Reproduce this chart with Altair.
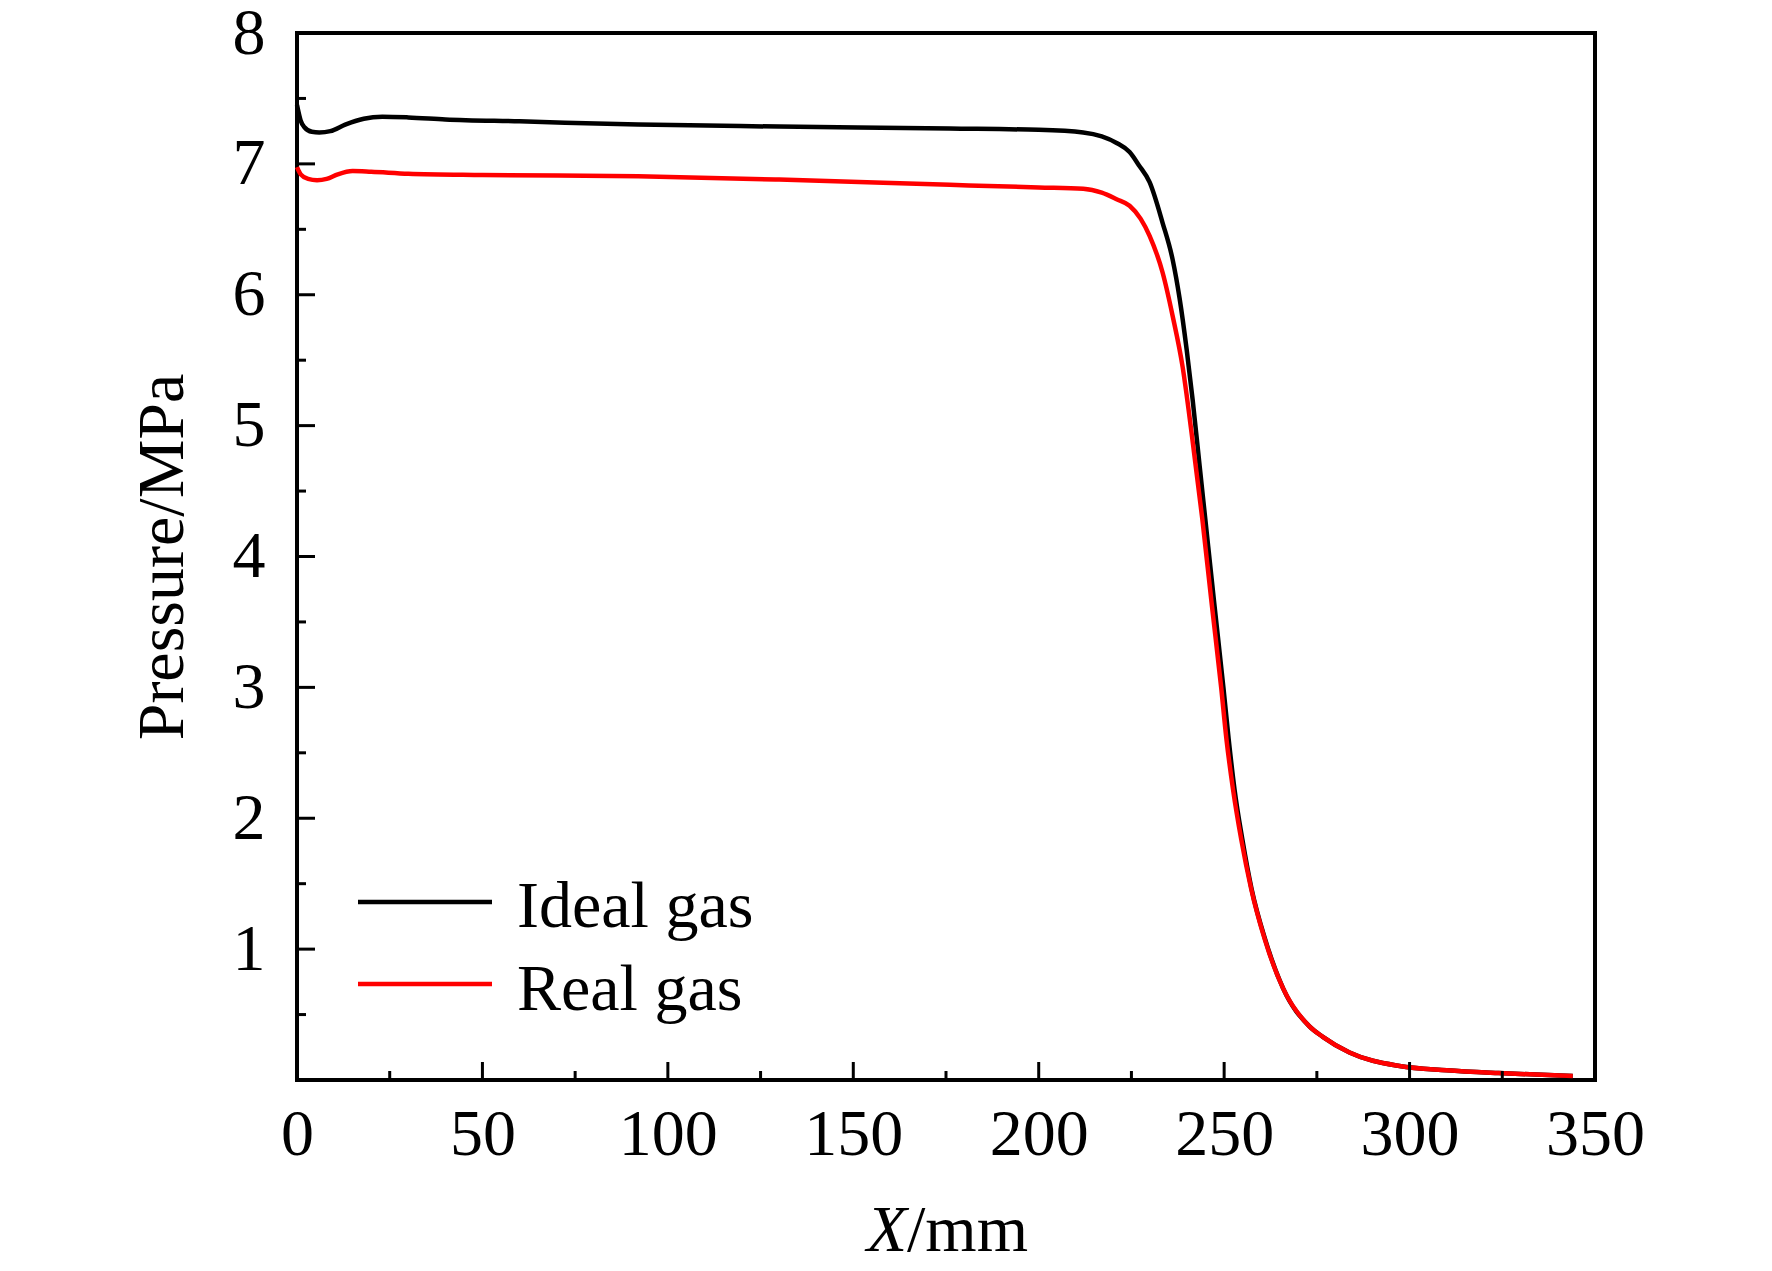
import altair as alt
import pandas as pd

# ---- data ----
x_ideal = [0, 1, 2, 4, 6, 9, 13, 18, 23, 30, 40, 60, 92, 130, 176, 200, 212, 217, 221,
           224.5, 227, 229.9, 233.4, 236.1, 238, 239.9, 241.5, 243.4, 244.9, 247.3,
           249.8, 251.2, 252.8, 254.9, 257.4, 261, 265.9, 273, 276.6, 283.8, 297.3,
           310, 324, 344]
p_ideal = [7.45, 7.33, 7.28, 7.245, 7.24, 7.25, 7.30, 7.345, 7.36, 7.355, 7.34, 7.325,
           7.30, 7.285, 7.27, 7.26, 7.24, 7.21, 7.16, 7.09, 6.99, 6.86, 6.55, 6.27,
           5.97, 5.58, 5.20, 4.69, 4.29, 3.65, 3.00, 2.61, 2.22, 1.84, 1.46, 1.08, 0.70,
           0.41, 0.33, 0.21, 0.107, 0.075, 0.053, 0.03]

x_real = [0, 1, 3, 5.4, 8, 11, 15, 20, 30, 50, 92, 130, 176, 200, 212, 217, 221, 224.5,
          227.5, 229.9, 233.4, 236.1, 238.8, 241.2, 244.1, 246.6, 249.2, 250.6, 252.4,
          254.6, 257.3, 260.9, 265.9, 273, 276.6, 283.8, 297.3, 310, 324, 344]
p_real = [6.975, 6.92, 6.885, 6.875, 6.885, 6.92, 6.945, 6.94, 6.925, 6.915, 6.905, 6.88,
          6.84, 6.82, 6.81, 6.78, 6.73, 6.68, 6.58, 6.45, 6.17, 5.84, 5.45, 4.95, 4.29,
          3.65, 3.00, 2.61, 2.22, 1.84, 1.46, 1.08, 0.70, 0.41, 0.33, 0.21, 0.107, 0.075,
          0.053, 0.03]

series_names = ["Ideal gas", "Real gas"]
series_colors = ["#000000", "#ff0000"]

x_tick_labels = [0, 50, 100, 150, 200, 250, 300, 350]
y_tick_labels = [1, 2, 3, 4, 5, 6, 7, 8]
x_major_ticks = [50, 100, 150, 200, 250, 300]
x_minor_ticks = [25, 75, 125, 175, 225, 275, 325]
y_major_ticks = [1, 2, 3, 4, 5, 6, 7]
y_minor_ticks = [0.5, 1.5, 2.5, 3.5, 4.5, 5.5, 6.5, 7.5]

W, H = 1298, 1047
FONT = "Liberation Serif"
FS = 66

df = pd.concat([
    pd.DataFrame({"X": x_ideal, "P": p_ideal, "series": series_names[0], "order": 0}),
    pd.DataFrame({"X": x_real, "P": p_real, "series": series_names[1], "order": 1}),
])

xscale = alt.Scale(domain=[0, 350], nice=False, zero=False)
yscale = alt.Scale(domain=[0, 8], nice=False, zero=False)

xaxis = alt.Axis(values=x_tick_labels, title=None, grid=False, domain=False, ticks=False,
                 tickSize=0, labelPadding=74, labelBaseline="alphabetic",
                 labelFlush=False, labelFontSize=FS, labelFont=FONT, labelColor="black")
yaxis = alt.Axis(values=y_tick_labels, title="Pressure/MPa", grid=False, domain=False,
                 ticks=False, tickSize=0, labelPadding=32, labelFontSize=FS,
                 labelFont=FONT, labelColor="black", titleFont=FONT, titleFontSize=FS,
                 titleFontWeight="normal", titleColor="black", titleAngle=270,
                 titleBaseline="alphabetic", titleX=-115, titleY=H / 2,
                 titleAlign="center")

color_scale = alt.Scale(domain=series_names, range=series_colors)

lines = alt.Chart(df).mark_line(strokeWidth=4.5, interpolate="monotone").encode(
    x=alt.X("X:Q", scale=xscale, axis=xaxis),
    y=alt.Y("P:Q", scale=yscale, axis=yaxis),
    color=alt.Color("series:N", scale=color_scale, legend=None),
    detail="series:N",
    order="order:Q",
)

def xticks(vals, length):
    return alt.Chart(pd.DataFrame({"X": vals})).mark_rule(
        color="black", strokeWidth=3).encode(
        x=alt.X("X:Q", scale=xscale, axis=xaxis),
        y=alt.value(H), y2=alt.value(H - length))

def yticks(vals, length):
    return alt.Chart(pd.DataFrame({"P": vals})).mark_rule(
        color="black", strokeWidth=3).encode(
        y=alt.Y("P:Q", scale=yscale, axis=yaxis),
        x=alt.value(0), x2=alt.value(length))

tick_layers = [xticks(x_major_ticks, 18), xticks(x_minor_ticks, 9),
               yticks(y_major_ticks, 18), yticks(y_minor_ticks, 9)]

# legend (drawn manually inside the plot)
legend_layers = []
legend_line_y = [869, 951]
legend_text_y = [894, 977]
for i, name in enumerate(series_names):
    ld = pd.DataFrame({"series": [name]})
    legend_layers.append(
        alt.Chart(ld).mark_rule(strokeWidth=4.5, color=series_colors[i]).encode(
            x=alt.value(61), x2=alt.value(195), y=alt.value(legend_line_y[i])))
    legend_layers.append(
        alt.Chart(ld).mark_text(font=FONT, fontSize=FS, align="left",
                                baseline="alphabetic", color="black").encode(
            text="series:N", x=alt.value(220), y=alt.value(legend_text_y[i])))

# x-axis title: italic X + upright /mm
title_layers = [
    alt.Chart(pd.DataFrame({"t": ["X"]})).mark_text(
        font=FONT, fontSize=FS, fontStyle="italic", align="right",
        baseline="alphabetic", color="black").encode(
        text="t:N", x=alt.value(610), y=alt.value(1218)),
    alt.Chart(pd.DataFrame({"t": ["/mm"]})).mark_text(
        font=FONT, fontSize=FS, align="left",
        baseline="alphabetic", color="black").encode(
        text="t:N", x=alt.value(610), y=alt.value(1218)),
]

chart = alt.layer(lines, *tick_layers, *legend_layers, *title_layers).properties(
    width=W, height=H,
    autosize=alt.AutoSizeParams(type="none"),
    padding={"left": 289, "top": 25, "right": 150, "bottom": 186},
).configure(
    font=FONT, background="white"
).configure_view(
    stroke="black", strokeWidth=4
)

chart.save("out.html", embed_options={"renderer": "svg", "actions": False})
